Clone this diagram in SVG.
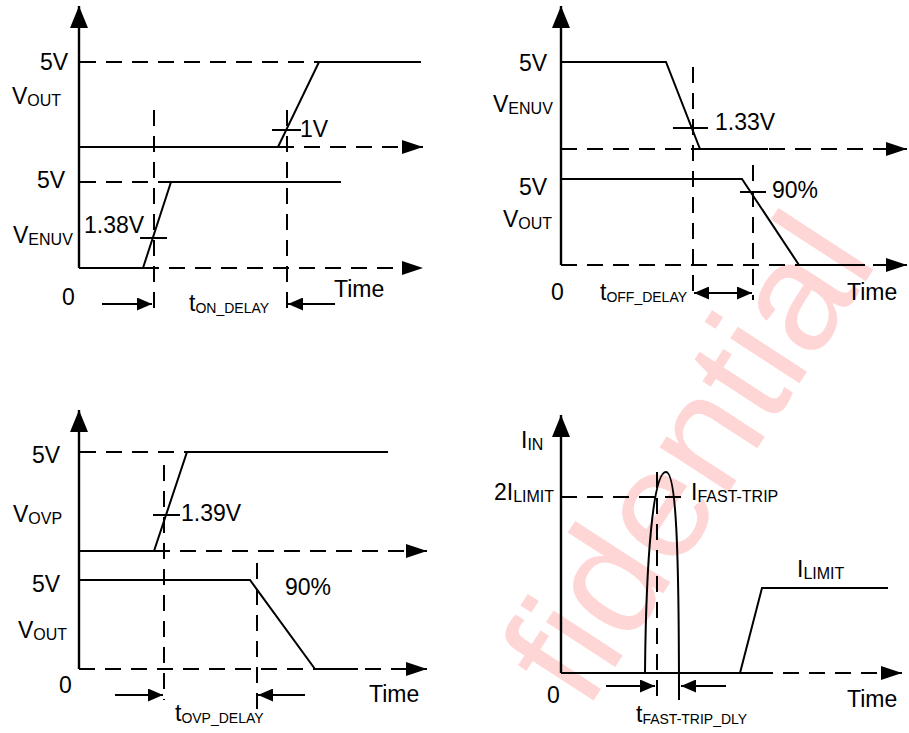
<svg xmlns="http://www.w3.org/2000/svg" width="909" height="733" viewBox="0 0 909 733">
<style>
.ln{fill:none;stroke:#000;stroke-width:2}
.ax{fill:none;stroke:#000;stroke-width:2.4}
.dash{fill:none;stroke:#000;stroke-width:2;stroke-dasharray:16 10}
text{font-family:"Liberation Sans",Arial,sans-serif;font-size:23px;fill:#000}
.sub{font-size:16px}
.tsub{font-size:14px}
.wm{font-family:"Liberation Sans",Arial,sans-serif;font-size:156px;fill:#ffd6d6}
</style>
<defs>
<marker id="ax" markerUnits="userSpaceOnUse" markerWidth="21" markerHeight="14" refX="21" refY="7" orient="auto"><path d="M0,0 L21,7 L0,14 z" fill="#000"/></marker>
<marker id="ay" markerUnits="userSpaceOnUse" markerWidth="22" markerHeight="18" refX="22" refY="9" orient="auto"><path d="M0,0 L22,9 L0,18 z" fill="#000"/></marker>
<marker id="as" markerUnits="userSpaceOnUse" markerWidth="15" markerHeight="13" refX="15" refY="6.5" orient="auto-start-reverse"><path d="M0,0 L15,6.5 L0,13 z" fill="#000"/></marker>
</defs>
<rect width="909" height="733" fill="#fff"/>
<text class="wm" transform="translate(586,712) rotate(-57)">fidential</text>

<g id="panel-on-delay">
<line class="ax" x1="79" y1="268" x2="79" y2="6" marker-end="url(#ay)"/>
<line class="ln" x1="79" y1="268" x2="143" y2="268"/>
<line class="dash" x1="143" y1="268" x2="423" y2="268" marker-end="url(#ax)"/>
<polyline class="ln" points="143,268 171,182 341,182"/>
<line class="dash" x1="80" y1="182" x2="171" y2="182"/>
<line class="ln" x1="140" y1="238" x2="167" y2="238"/>
<polyline class="ln" points="79,147 278,147 319,62 421,62"/>
<line class="dash" x1="80" y1="62" x2="319" y2="62"/>
<line class="dash" x1="278" y1="147" x2="423" y2="147" marker-end="url(#ax)"/>
<line class="ln" x1="272" y1="130" x2="301" y2="130"/>
<line class="dash" x1="154" y1="110" x2="154" y2="310"/>
<line class="dash" x1="287" y1="110" x2="287" y2="310"/>
<line class="ln" x1="102" y1="304" x2="152" y2="304" marker-end="url(#as)"/>
<line class="ln" x1="335" y1="304" x2="288" y2="304" marker-end="url(#as)"/>
<text x="40" y="70">5V</text>
<text x="12" y="104">V<tspan class="sub" dy="2">OUT</tspan></text>
<text x="37" y="188">5V</text>
<text x="13" y="243">V<tspan class="sub" dy="2">ENUV</tspan></text>
<text x="84" y="233">1.38V</text>
<text x="300" y="137">1V</text>
<text x="62" y="305">0</text>
<text x="334" y="297">Time</text>
<text x="189" y="311">t<tspan class="tsub" dy="2">ON_DELAY</tspan></text>
</g>

<g id="panel-off-delay">
<line class="ax" x1="561" y1="265" x2="561" y2="6" marker-end="url(#ay)"/>
<line class="dash" x1="561" y1="265" x2="907" y2="265" marker-end="url(#ax)"/>
<polyline class="ln" points="561,179 742,179 799,265 865,265"/>
<line class="dash" x1="561" y1="149" x2="907" y2="149" marker-end="url(#ax)"/>
<polyline class="ln" points="561,62 666,62 700,149 768,149"/>
<line class="ln" x1="673" y1="128" x2="708" y2="128"/>
<line class="ln" x1="740" y1="192" x2="766" y2="192"/>
<line class="dash" x1="693" y1="67" x2="693" y2="300"/>
<line class="dash" x1="753" y1="165" x2="753" y2="300"/>
<line class="ln" x1="694" y1="293" x2="752" y2="293" marker-start="url(#as)" marker-end="url(#as)"/>
<text x="519" y="71">5V</text>
<text x="493" y="112">V<tspan class="sub" dy="2">ENUV</tspan></text>
<text x="715" y="130">1.33V</text>
<text x="519" y="195">5V</text>
<text x="772" y="198">90%</text>
<text x="503" y="227">V<tspan class="sub" dy="2">OUT</tspan></text>
<text x="551" y="300">0</text>
<text x="600" y="300">t<tspan class="tsub" dy="2">OFF_DELAY</tspan></text>
<text x="847" y="300">Time</text>
</g>

<g id="panel-ovp-delay">
<line class="ax" x1="79" y1="669" x2="79" y2="410" marker-end="url(#ay)"/>
<line class="dash" x1="79" y1="669" x2="427" y2="669" marker-end="url(#ax)"/>
<polyline class="ln" points="79,551 154,551 187,452 388,452"/>
<line class="dash" x1="80" y1="452" x2="187" y2="452"/>
<line class="dash" x1="154" y1="551" x2="427" y2="551" marker-end="url(#ax)"/>
<line class="ln" x1="153" y1="515" x2="180" y2="515"/>
<polyline class="ln" points="79,580 250,580 315,669 358,669"/>
<line class="dash" x1="164" y1="465" x2="164" y2="700"/>
<line class="dash" x1="257" y1="563" x2="257" y2="710"/>
<line class="ln" x1="115" y1="695" x2="163" y2="695" marker-end="url(#as)"/>
<line class="ln" x1="305" y1="695" x2="258" y2="695" marker-end="url(#as)"/>
<text x="32" y="463">5V</text>
<text x="13" y="522">V<tspan class="sub" dy="2">OVP</tspan></text>
<text x="181" y="521">1.39V</text>
<text x="32" y="592">5V</text>
<text x="285" y="595">90%</text>
<text x="18" y="638">V<tspan class="sub" dy="2">OUT</tspan></text>
<text x="59" y="693">0</text>
<text x="369" y="702">Time</text>
<text x="175" y="721">t<tspan class="tsub" dy="2">OVP_DELAY</tspan></text>
</g>

<g id="panel-fast-trip">
<line class="ax" x1="561" y1="673" x2="561" y2="415" marker-end="url(#ay)"/>
<line class="ln" x1="561" y1="673" x2="757" y2="673"/>
<line class="dash" x1="757" y1="673" x2="902" y2="673" marker-end="url(#ax)"/>
<polyline class="ln" points="740,673 762,588 888,588"/>
<path class="ln" d="M645,673 C646,560 653,472 666,472 C676,472 679,545 679,700"/>
<line class="dash" x1="561" y1="497" x2="687" y2="497"/>
<line class="dash" x1="657" y1="472" x2="657" y2="700"/>
<line class="ln" x1="606" y1="686" x2="655" y2="686" marker-end="url(#as)"/>
<line class="ln" x1="726" y1="686" x2="681" y2="686" marker-end="url(#as)"/>
<text x="521" y="448">I<tspan class="sub" dy="2">IN</tspan></text>
<text x="494" y="500">2I<tspan class="sub" dy="2">LIMIT</tspan></text>
<text x="691" y="500">I<tspan class="sub" dy="2">FAST-TRIP</tspan></text>
<text x="797" y="577">I<tspan class="sub" dy="2">LIMIT</tspan></text>
<text x="547" y="703">0</text>
<text x="847" y="707">Time</text>
<text x="636" y="722">t<tspan class="tsub" dy="2">FAST-TRIP_DLY</tspan></text>
</g>
</svg>
